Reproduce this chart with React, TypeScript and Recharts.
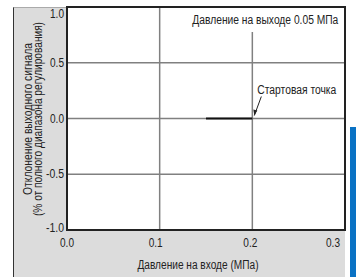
import React from "react";
import { LineChart, Line, XAxis, YAxis, CartesianGrid, ReferenceArea, ReferenceDot } from "recharts";

const xTicks = [0, 0.1, 0.2, 0.3];
const yTicks = [-1, -0.5, 0, 0.5, 1];
const inputPressure = [0.15, 0.2];
const deviation = [0, 0];
const data = inputPressure.map((x, i) => ({ x, y: deviation[i] }));

const FONT = "'Liberation Sans', Arial, sans-serif";
const TXT = "#222";

const YTick = (props: any) => {
  const { x, y, payload } = props;
  let dy = 4;
  if (payload.value === 1) dy = 11;
  if (payload.value === -1) dy = 2;
  const s = payload.value.toFixed(1);
  return (
    <text x={x} y={y + dy} textAnchor="end" fontSize={12} fontFamily={FONT} fill={TXT}
      textLength={s.length === 4 ? 18 : 14} lengthAdjust="spacingAndGlyphs">
      {s}
    </text>
  );
};

const XTick = (props: any) => {
  const { x, payload } = props;
  let dx = 0;
  let anchor = "middle";
  if (payload.value === 0.1) dx = -4;
  if (payload.value === 0.2) dx = -2;
  if (payload.value === 0.3) { dx = -5; anchor = "end"; }
  return (
    <text x={x + dx} y={247} textAnchor={anchor} fontSize={12} fontFamily={FONT} fill={TXT}
      textLength={14} lengthAdjust="spacingAndGlyphs">
      {payload.value.toFixed(1)}
    </text>
  );
};

const TopLabel = (props: any) => {
  const { cx, cy } = props;
  return (
    <g>
      <rect x={cx - 6} y={cy + 1} width={12} height={24} fill="#fff" />
      <text x={cx + 13} y={cy + 17} textAnchor="middle" fontSize={12} fontFamily={FONT} fill={TXT}
        textLength={146} lengthAdjust="spacingAndGlyphs">
        Давление на выходе 0.05 МПа
      </text>
    </g>
  );
};

const StartLabel = (props: any) => {
  const { cx, cy } = props;
  const x1 = cx + 9, y1 = cy - 22, x2 = cx + 2, y2 = cy - 3;
  return (
    <g>
      <text x={cx + 5} y={cy - 25} textAnchor="start" fontSize={12} fontFamily={FONT} fill={TXT}
        textLength={79} lengthAdjust="spacingAndGlyphs">
        Стартовая точка
      </text>
      <line x1={x1} y1={y1} x2={x2} y2={y2} stroke="#222" strokeWidth={1} />
      <polygon points={`${x2},${y2} ${x2 - 1},${y2 - 6} ${x2 + 3},${y2 - 5}`} fill="#222" />
    </g>
  );
};

export default function App() {
  return (
    <div style={{ position: "absolute", left: 0, top: 0, width: 356, height: 277, background: "#fff", overflow: "hidden" }}>
      <div style={{ position: "absolute", left: 13, top: 7, width: 332, height: 270, background: "#dcdcdc", borderLeft: "1px solid #333", borderTop: "1px solid #aaa", boxSizing: "border-box" }} />
      <div style={{ position: "absolute", left: 350, top: 127, width: 6, height: 150, background: "#0a72c4" }} />
      <div style={{ position: "absolute", left: 0, top: 0 }}>
        <LineChart width={356} height={277} data={data} margin={{ top: 7, right: 11, left: 13, bottom: 7 }}>
          <CartesianGrid fill="#fff" stroke="#808080" strokeWidth={1.5} horizontalValues={yTicks} verticalValues={xTicks} />
          <XAxis dataKey="x" type="number" domain={[0, 0.3]} ticks={xTicks} height={40} axisLine={false} tickLine={false} tick={(p: any) => <XTick {...p} />} interval={0} />
          <YAxis type="number" domain={[-1, 1]} ticks={yTicks} width={54} axisLine={false} tickLine={false} tickSize={0} tickMargin={3} tick={(p: any) => <YTick {...p} />} interval={0} />
          <ReferenceArea x1={0} x2={0.3} y1={-1} y2={1} fill="none" stroke="#222" strokeWidth={2} ifOverflow="visible" />
          <Line dataKey="y" stroke="#111" strokeWidth={2} dot={false} isAnimationActive={false} />
          <ReferenceDot x={0.2} y={1} r={0} shape={(p: any) => <TopLabel {...p} />} ifOverflow="visible" />
          <ReferenceDot x={0.2} y={0} r={0} shape={(p: any) => <StartLabel {...p} />} ifOverflow="visible" />
        </LineChart>
      </div>
      <svg width={356} height={277} style={{ position: "absolute", left: 0, top: 0, pointerEvents: "none" }}>
        <g transform="translate(32,119) rotate(-90)">
          <text x={0} y={0} textAnchor="middle" fontSize={12} fontFamily={FONT} fill={TXT} textLength={152} lengthAdjust="spacingAndGlyphs">Отклонение выходного сигнала</text>
          <text x={0} y={10} textAnchor="middle" fontSize={12} fontFamily={FONT} fill={TXT} textLength={194} lengthAdjust="spacingAndGlyphs">(% от полного диапазона регулирования)</text>
        </g>
        <text x={198} y={269} textAnchor="middle" fontSize={12} fontFamily={FONT} fill={TXT} textLength={121} lengthAdjust="spacingAndGlyphs">Давление на входе (МПа)</text>
      </svg>
    </div>
  );
}
